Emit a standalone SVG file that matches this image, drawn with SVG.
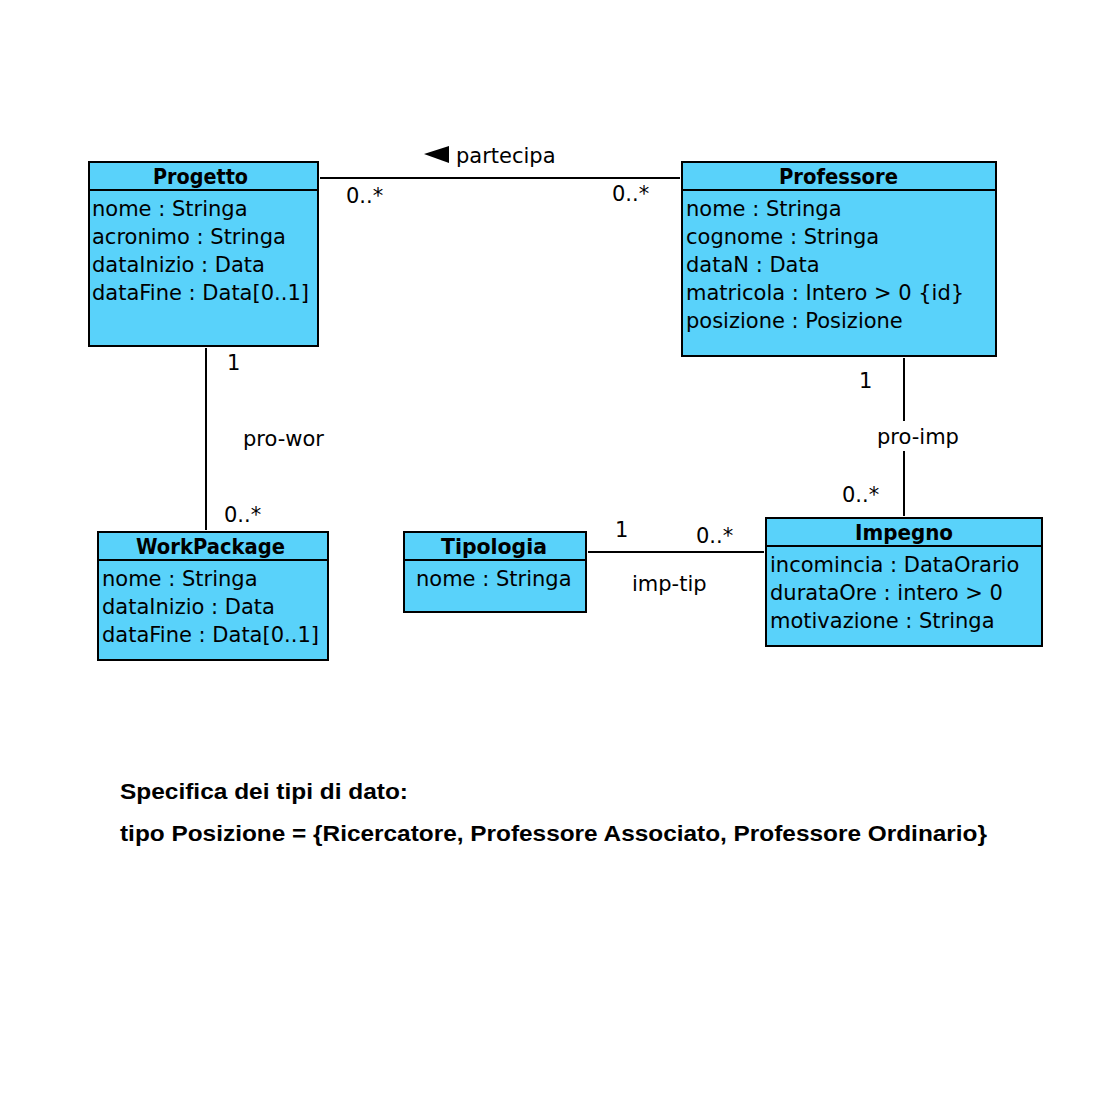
<svg xmlns="http://www.w3.org/2000/svg" width="1120" height="1104" viewBox="0 0 1120 1104">
<style>
.box{fill:#59d2fa;stroke:#000;stroke-width:2}
.sep{stroke:#000;stroke-width:2}
.t{font-family:"DejaVu Sans","Liberation Sans",sans-serif;font-size:21px;fill:#000}
.h{font-family:"DejaVu Sans","Liberation Sans",sans-serif;font-size:21px;font-weight:bold;fill:#000}
.c{stroke:#000;stroke-width:2;fill:none}
.n{font-family:"Liberation Sans",Arial,sans-serif;font-size:22px;font-weight:bold;fill:#000}
</style>
<rect width="1120" height="1104" fill="#fff"/>
<g id="Progetto">
<rect class="box" x="89" y="162" width="229" height="184"/>
<line class="sep" x1="89" y1="190" x2="318" y2="190"/>
<text class="h" x="153" y="184" textLength="95" lengthAdjust="spacingAndGlyphs">Progetto</text>
<text class="t" x="92" y="216">nome : Stringa</text>
<text class="t" x="92" y="244">acronimo : Stringa</text>
<text class="t" x="92" y="272">dataInizio : Data</text>
<text class="t" x="92" y="300">dataFine : Data[0..1]</text>
</g>
<g id="Professore">
<rect class="box" x="682" y="162" width="314" height="194"/>
<line class="sep" x1="682" y1="190" x2="996" y2="190"/>
<text class="h" x="779" y="184" textLength="119" lengthAdjust="spacingAndGlyphs">Professore</text>
<text class="t" x="686" y="216">nome : Stringa</text>
<text class="t" x="686" y="244">cognome : Stringa</text>
<text class="t" x="686" y="272">dataN : Data</text>
<text class="t" x="686" y="300">matricola : Intero &gt; 0 {id}</text>
<text class="t" x="686" y="328">posizione : Posizione</text>
</g>
<g id="WorkPackage">
<rect class="box" x="98" y="532" width="230" height="128"/>
<line class="sep" x1="98" y1="560" x2="328" y2="560"/>
<text class="h" x="136" y="554" textLength="149" lengthAdjust="spacingAndGlyphs">WorkPackage</text>
<text class="t" x="102" y="586">nome : Stringa</text>
<text class="t" x="102" y="614">dataInizio : Data</text>
<text class="t" x="102" y="642">dataFine : Data[0..1]</text>
</g>
<g id="Tipologia">
<rect class="box" x="404" y="532" width="182" height="80"/>
<line class="sep" x1="404" y1="560" x2="586" y2="560"/>
<text class="h" x="441" y="554" textLength="106" lengthAdjust="spacingAndGlyphs">Tipologia</text>
<text class="t" x="416" y="586">nome : Stringa</text>
</g>
<g id="Impegno">
<rect class="box" x="766" y="518" width="276" height="128"/>
<line class="sep" x1="766" y1="546" x2="1042" y2="546"/>
<text class="h" x="855" y="540" textLength="98" lengthAdjust="spacingAndGlyphs">Impegno</text>
<text class="t" x="770" y="572">incomincia : DataOrario</text>
<text class="t" x="770" y="600">durataOre : intero &gt; 0</text>
<text class="t" x="770" y="628">motivazione : Stringa</text>
</g>
<g id="connectors">
<line class="c" x1="320" y1="178" x2="680" y2="178"/>
<polygon points="424,154 449,146 449,163" fill="#000"/>
<text class="t" x="456" y="163">partecipa</text>
<text class="t" x="346" y="203">0..*</text>
<text class="t" x="612" y="201">0..*</text>
<line class="c" x1="206" y1="348" x2="206" y2="530"/>
<text class="t" x="227" y="370">1</text>
<text class="t" x="243" y="446">pro-wor</text>
<text class="t" x="224" y="522">0..*</text>
<line class="c" x1="904" y1="358" x2="904" y2="421"/>
<line class="c" x1="904" y1="451" x2="904" y2="516"/>
<text class="t" x="859" y="388">1</text>
<text class="t" x="877" y="444">pro-imp</text>
<text class="t" x="842" y="502">0..*</text>
<line class="c" x1="588" y1="552" x2="764" y2="552"/>
<text class="t" x="615" y="537">1</text>
<text class="t" x="696" y="543">0..*</text>
<text class="t" x="632" y="591">imp-tip</text>
</g>
<g id="notes">
<text class="n" x="120" y="799" textLength="288" lengthAdjust="spacingAndGlyphs">Specifica dei tipi di dato:</text>
<text class="n" x="120" y="841" textLength="867" lengthAdjust="spacingAndGlyphs">tipo Posizione = {Ricercatore, Professore Associato, Professore Ordinario}</text>
</g>
</svg>
